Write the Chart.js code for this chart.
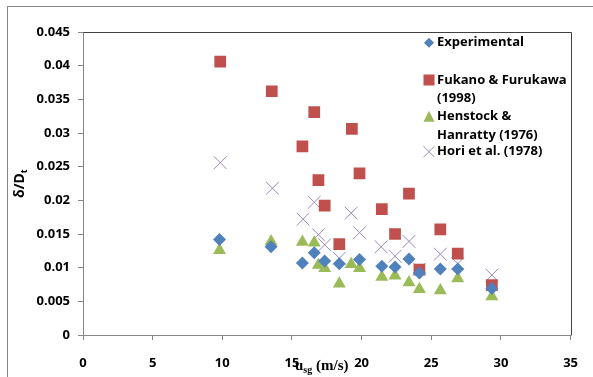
<!DOCTYPE html>
<html>
<head>
<meta charset="utf-8">
<script src="https://cdn.jsdelivr.net/npm/chart.js@4/dist/chart.umd.min.js"></script>
<style>
html,body{margin:0;padding:0;background:#fff;}
#wrap{width:593px;height:377px;position:relative;}
</style>
</head>
<body>
<div id="wrap"><canvas id="c" width="593" height="377"></canvas></div>
<script>
// ---- data ----
const expX = [9.8, 13.5, 15.75, 16.6, 17.35, 18.4, 19.85, 21.45, 22.4, 23.4, 24.15, 25.65, 26.9, 29.35];
const expY = [0.0142, 0.0131, 0.0107, 0.0122, 0.0110, 0.0106, 0.0112, 0.0102, 0.0101, 0.0113, 0.0092, 0.0098, 0.0098, 0.0069];

const fukX = [9.85, 13.55, 15.75, 16.6, 16.9, 17.35, 18.4, 19.3, 19.85, 21.45, 22.4, 23.4, 24.15, 25.65, 26.9, 29.35];
const fukY = [0.0406, 0.0362, 0.0280, 0.0331, 0.0230, 0.0192, 0.0135, 0.0306, 0.0240, 0.0187, 0.0150, 0.0210, 0.0097, 0.0157, 0.0121, 0.0074];

const henX = [9.8, 13.5, 15.75, 16.6, 16.9, 17.35, 18.4, 19.25, 19.85, 21.45, 22.4, 23.4, 24.15, 25.65, 26.9, 29.35];
const henY = [0.0126, 0.0139, 0.0138, 0.0137, 0.0104, 0.0099, 0.0076, 0.0105, 0.0099, 0.0086, 0.0088, 0.0078, 0.0068, 0.0066, 0.0084, 0.0057];

const horX = [9.85, 13.6, 15.8, 16.6, 16.9, 17.35, 18.4, 19.25, 19.85, 21.4, 22.4, 23.4, 24.15, 25.65, 26.9, 29.35];
const horY = [0.0256, 0.0218, 0.0172, 0.0197, 0.0149, 0.0134, 0.0114, 0.0181, 0.0152, 0.0131, 0.0117, 0.0139, 0.0098, 0.0120, 0.0106, 0.0089];

const seriesNames = ['Experimental', 'Fukano & Furukawa (1998)', 'Henstock & Hanratty (1976)', 'Hori et al. (1978)'];
const legendLines = [['Experimental'], ['Fukano & Furukawa', '(1998)'], ['Henstock &', 'Hanratty (1976)'], ['Hori et al. (1978)']];
const xTicks = ['0', '5', '10', '15', '20', '25', '30', '35'];
const yTicks = ['0', '0.005', '0.01', '0.015', '0.02', '0.025', '0.03', '0.035', '0.04', '0.045'];

const toPts = (xs, ys) => xs.map((x, i) => ({x: x, y: ys[i]}));

const FONT = '"Open Sans", "Liberation Sans", sans-serif';
const AXIS = '#868686';

const frame = {
  id: 'frame',
  beforeDraw(chart) {
    const ctx = chart.ctx;
    ctx.save();
    ctx.fillStyle = '#fff';
    ctx.fillRect(0, 0, chart.width, chart.height);
    ctx.strokeStyle = AXIS;
    ctx.lineWidth = 1;
    ctx.strokeRect(7.5, 6.5, 700, 700);
    ctx.restore();
  },
  afterDraw(chart) {
    const ctx = chart.ctx;
    const a = chart.chartArea;
    ctx.save();
    // top and right plot border
    ctx.strokeStyle = '#404040';
    ctx.lineWidth = 1;
    ctx.beginPath();
    ctx.moveTo(Math.round(a.left) + 0.5, Math.round(a.top) + 0.5);
    ctx.lineTo(Math.round(a.right) + 0.5, Math.round(a.top) + 0.5);
    ctx.lineTo(Math.round(a.right) + 0.5, Math.round(a.bottom) + 0.5);
    ctx.stroke();

    // legend
    const lx = 429, tx = 437;
    const rows = [[42.7], [80, 98], [116.7, 135], [151.7]];
    ctx.font = 'bold 13px ' + FONT;
    ctx.fillStyle = '#000';
    ctx.textBaseline = 'middle';
    ctx.textAlign = 'left';
    chart.data.datasets.forEach((ds, i) => {
      const ys = rows[i];
      legendLines[i].forEach((t, j) => ctx.fillText(t, tx, ys[j]));
      const y = ys[0];
      ctx.fillStyle = ds.backgroundColor;
      ctx.strokeStyle = ds.borderColor;
      ctx.lineWidth = 1;
      ctx.beginPath();
      if (ds.pointStyle === 'rectRot') {
        ctx.moveTo(lx, y - 5); ctx.lineTo(lx + 5, y); ctx.lineTo(lx, y + 5); ctx.lineTo(lx - 5, y); ctx.closePath(); ctx.fill();
      } else if (ds.pointStyle === 'rect') {
        ctx.fillRect(lx - 5.5, y - 5.5, 11, 11);
      } else if (ds.pointStyle === 'triangle') {
        ctx.moveTo(lx, y - 6); ctx.lineTo(lx + 5.5, y + 5); ctx.lineTo(lx - 5.5, y + 5); ctx.closePath(); ctx.fill();
      } else {
        ctx.moveTo(lx - 5.5, y - 5.5); ctx.lineTo(lx + 5.5, y + 5.5);
        ctx.moveTo(lx + 5.5, y - 5.5); ctx.lineTo(lx - 5.5, y + 5.5); ctx.stroke();
      }
      ctx.fillStyle = '#000';
    });

    // x axis title: u_sg (m/s)
    ctx.fillStyle = '#000';
    ctx.textBaseline = 'alphabetic';
    let x = 295, by = 370;
    ctx.font = 'bold 15px "Liberation Serif", "DejaVu Serif", serif';
    ctx.fillText('u', x, by);
    x += ctx.measureText('u').width;
    ctx.font = 'bold 10px "Liberation Serif", "DejaVu Serif", serif';
    ctx.fillText('sg', x, by + 3);
    x += ctx.measureText('sg').width;
    ctx.font = 'bold 15px "Liberation Serif", "DejaVu Serif", serif';
    ctx.fillText(' (m/s)', x, by);

    // y axis title: δ/D_t
    ctx.save();
    ctx.translate(24, 198);
    ctx.rotate(-Math.PI / 2);
    ctx.font = 'bold 14px ' + FONT;
    ctx.fillText('δ/D', 0, 0);
    const w = ctx.measureText('δ/D').width;
    ctx.font = 'bold 9px ' + FONT;
    ctx.fillText('t', w, 3);
    ctx.restore();
    ctx.restore();
  }
};

const COLORS = ['#4F81BD', '#C0504D', '#9BBB59', '#9B88BD'];

new Chart(document.getElementById('c'), {
  type: 'scatter',
  data: {
    datasets: [
      {label: seriesNames[0], data: toPts(expX, expY), pointStyle: 'rectRot', radius: 6.5, backgroundColor: COLORS[0], borderColor: COLORS[0], borderWidth: 0},
      {label: seriesNames[1], data: toPts(fukX, fukY), pointStyle: 'rect', radius: 8.3, backgroundColor: COLORS[1], borderColor: COLORS[1], borderWidth: 0},
      {label: seriesNames[2], data: toPts(henX, henY), pointStyle: 'triangle', radius: 7.5, backgroundColor: COLORS[2], borderColor: COLORS[2], borderWidth: 0},
      {label: seriesNames[3], data: toPts(horX, horY), pointStyle: 'crossRot', radius: 9, backgroundColor: COLORS[3], borderColor: COLORS[3], borderWidth: 1}
    ]
  },
  options: {
    responsive: false,
    animation: false,
    events: [],
    layout: {padding: {top: 32, right: 20, left: 0, bottom: 0}},
    plugins: {legend: {display: false}, tooltip: {enabled: false}},
    scales: {
      x: {
        type: 'linear', min: 0, max: 35,
        afterFit(s) { s.height = 42; },
        afterBuildTicks(s) { s.ticks = xTicks.map(v => ({value: Number(v)})); },
        ticks: {stepSize: 5, padding: 15, color: '#000', font: {family: FONT, size: 13, weight: 'bold'},
          callback: (v, i) => xTicks[i]},
        grid: {display: true, drawOnChartArea: false, drawTicks: true, tickLength: 5, color: AXIS},
        border: {display: true, color: AXIS}
      },
      y: {
        type: 'linear', min: 0, max: 0.045,
        afterFit(s) { s.width = 83; },
        afterBuildTicks(s) { s.ticks = yTicks.map(v => ({value: Number(v)})); },
        ticks: {stepSize: 0.005, padding: 8, color: '#000', font: {family: FONT, size: 13, weight: 'bold'},
          callback: (v, i) => yTicks[i]},
        grid: {display: true, drawOnChartArea: false, drawTicks: true, tickLength: 5, color: AXIS},
        border: {display: true, color: AXIS}
      }
    }
  },
  plugins: [frame]
});
</script>
</body>
</html>
